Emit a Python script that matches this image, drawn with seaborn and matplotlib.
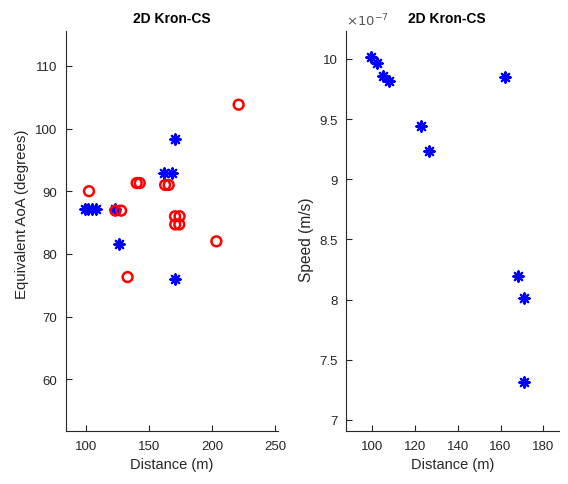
import matplotlib
matplotlib.use("Agg")
import matplotlib.pyplot as plt
import seaborn as sns
import pandas as pd
from matplotlib.ticker import FuncFormatter

# ---- data ----
blue_dist = [99.25, 102.2, 104.9, 108.0, 122.9, 126.4, 161.9, 168.0, 170.8, 170.8]
blue_aoa = [87.2, 87.2, 87.2, 87.2, 87.2, 81.5, 92.9, 92.9, 98.4, 76.0]

red_dist = [102.6, 123.5, 128.0, 140.3, 142.7, 162.8, 165.6,
            170.6, 174.2, 170.8, 174.0, 133.1, 203.3, 220.9]
red_aoa = [90.0, 86.9, 86.9, 91.3, 91.3, 91.0, 91.0,
           86.0, 86.0, 84.7, 84.7, 76.3, 82.0, 103.8]

speed_dist = [99.25, 102.2, 104.9, 108.0, 122.9, 126.4, 161.9, 168.0, 170.8, 170.8]
speed = [10.019e-7, 9.969e-7, 9.859e-7, 9.817e-7, 9.446e-7, 9.233e-7,
         9.848e-7, 8.194e-7, 8.014e-7, 7.315e-7]

left_xticks = [100, 150, 200, 250]
left_yticks = [60, 70, 80, 90, 100, 110]
right_xticks = [100, 120, 140, 160, 180]
right_yticks = [7.0e-7, 7.5e-7, 8.0e-7, 8.5e-7, 9.0e-7, 9.5e-7, 10.0e-7]
title_text = "2D Kron-CS"

sns.set_style("white")
plt.rcParams['font.family'] = ['Liberation Sans', 'DejaVu Sans']
axcol = '#262626'

fig = plt.figure(figsize=(5.68, 4.85), dpi=100)
ax1 = fig.add_axes([0.1157, 0.1087, 0.4894 - 0.1157, 0.9346 - 0.1087])
ax2 = fig.add_axes([0.6086, 0.1087, 0.9847 - 0.6086, 0.9346 - 0.1087])

df_b = pd.DataFrame({"d": blue_dist, "a": blue_aoa})
df_r = pd.DataFrame({"d": red_dist, "a": red_aoa})
df_s = pd.DataFrame({"d": speed_dist, "s": speed})

ast = (8, 2, 0)
sns.scatterplot(data=df_b, x="d", y="a", ax=ax1, marker=ast, color='#0000ff',
                s=55, linewidth=1.6, zorder=2)
sns.scatterplot(data=df_r, x="d", y="a", ax=ax1, marker='o', facecolor='none',
                edgecolor='#ff0000', s=50, linewidth=1.8, zorder=3)
sns.scatterplot(data=df_s, x="d", y="s", ax=ax2, marker=ast, color='#0000ff',
                s=55, linewidth=1.6, zorder=3)

ax1.set_xlim(84.2, 252)
ax1.set_ylim(51.7, 115.6)
ax1.set_xticks(left_xticks)
ax1.set_yticks(left_yticks)
ax2.set_xlim(87.6, 187.5)
ax2.set_ylim(6.906e-7, 10.235e-7)
ax2.set_xticks(right_xticks)
ax2.set_yticks(right_yticks)
ax2.yaxis.set_major_formatter(FuncFormatter(lambda v, p: f"{round(v / 1e-7, 3):g}"))

for ax in (ax1, ax2):
    for sp in ('top', 'right'):
        ax.spines[sp].set_visible(False)
    for sp in ('left', 'bottom'):
        ax.spines[sp].set_color(axcol)
        ax.spines[sp].set_linewidth(0.8)
    ax.tick_params(direction='in', length=4, width=0.8, colors=axcol,
                   labelsize=9.5, left=True, bottom=True, pad=6)
    ax.set_xlabel("Distance (m)", fontsize=10.5, color=axcol, labelpad=4)

ax1.set_title(title_text, fontsize=10, fontweight='bold', color='black', pad=6)
ax2.set_title(title_text, fontsize=10, fontweight='bold', color='black', pad=6,
              x=0.475)

ax1.set_ylabel("Equivalent AoA (degrees)", fontsize=10.8, color=axcol)
ax2.set_ylabel("Speed (m/s)", fontsize=11.2, color=axcol)
ax1.yaxis.set_label_coords(-0.172, 0.545)
ax2.yaxis.set_label_coords(-0.146, 0.48)

ax2.text(0.0, 1.005, r"$\times10^{-7}$", transform=ax2.transAxes, fontsize=9.5,
         color='#555555', ha='left', va='bottom')

fig.savefig("out.png", dpi=100)
